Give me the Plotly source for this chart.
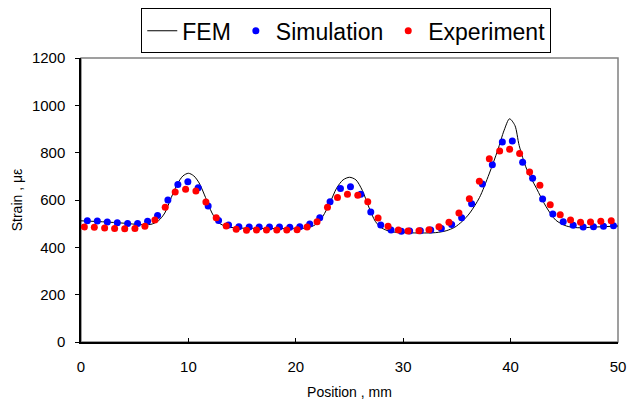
import plotly.graph_objects as go

# ---- data ----
fem_x = [0, 2, 4, 5.5, 6.5, 7.2, 7.8, 8.4, 9.0, 9.5, 10.0, 10.5, 11.0, 11.6, 12.2, 12.8, 13.5, 14.5,
         20, 21.0, 21.8, 22.5, 23.2, 23.8, 24.4, 25.0, 25.6, 26.2, 26.8, 27.4, 28.0, 28.8, 30, 33,
         34, 34.8, 35.5, 36.2, 37.1, 38.0, 38.8, 39.4, 39.9, 40.4, 40.8, 41.5, 42.4, 43.3, 44.2,
         45.2, 46.2, 48, 50]
fem_y = [512, 508, 502, 496, 497, 512, 545, 610, 670, 702, 713, 702, 672, 610, 545, 505, 488, 482,
         480, 482, 495, 530, 590, 650, 685, 696, 685, 640, 570, 510, 482, 467, 462, 462,
         470, 485, 510, 545, 610, 710, 810, 895, 943, 915, 830, 730, 650, 572, 515,
         490, 483, 486, 490]

sim_x = [0.59, 1.52, 2.45, 3.38, 4.34, 5.27, 6.20, 7.13, 8.09, 9.02, 9.95, 10.91, 11.84, 12.81,
         13.74, 14.70, 15.66, 16.59, 17.55, 18.48, 19.44, 20.37, 21.30, 22.23, 23.19, 24.16,
         25.09, 26.05, 26.98, 27.91, 28.87, 29.83, 30.60, 31.60, 32.56, 33.55, 34.51, 35.44,
         36.37, 37.37, 38.30, 39.23, 40.16, 41.12, 42.05, 42.98, 43.93, 44.90, 45.83, 46.76,
         47.72, 48.65, 49.58]
sim_y = [512, 511, 507, 504, 501, 501, 510, 534, 600, 666, 677, 652, 575, 513, 494, 487, 486,
         486, 486, 486, 485, 487, 499, 525, 593, 649, 656, 624, 549, 494, 473, 468, 469, 470,
         473, 480, 496, 525, 584, 668, 749, 845, 849, 759, 692, 604, 541, 508, 493, 486, 487,
         489, 491]

exp_x = [0.31, 1.24, 2.20, 3.13, 4.07, 5.02, 5.95, 6.88, 7.84, 8.77, 9.74, 10.70, 11.63, 12.59,
         13.52, 14.45, 15.41, 16.34, 17.27, 18.23, 19.16, 20.12, 21.05, 21.98, 22.95, 23.88,
         24.81, 25.77, 26.70, 27.66, 28.59, 29.55, 30.45, 31.47, 32.40, 33.33, 34.26, 35.19,
         36.16, 37.09, 38.02, 38.98, 39.91, 40.84, 41.77, 42.73, 43.69, 44.62, 45.58, 46.51,
         47.44, 48.40, 49.37]
exp_y = [486, 485, 482, 480, 479, 480, 489, 515, 569, 634, 645, 638, 592, 525, 490, 476, 472,
         473, 473, 473, 473, 474, 486, 508, 569, 611, 624, 620, 593, 524, 489, 473, 469, 470,
         474, 487, 506, 545, 605, 679, 774, 807, 814, 796, 718, 662, 580, 538, 515, 506, 507,
         510, 512]

x_ticks = [0, 10, 20, 30, 40, 50]
y_ticks = [0, 200, 400, 600, 800, 1000, 1200]

FONT = "Arial, Liberation Sans, sans-serif"

fig = go.Figure()
fig.add_trace(go.Scatter(x=fem_x, y=fem_y, mode="lines", name="FEM",
                         line=dict(color="black", width=1, shape="spline", smoothing=0.8)))
fig.add_trace(go.Scatter(x=sim_x, y=sim_y, mode="markers", name="Simulation",
                         marker=dict(color="#0000FF", size=7)))
fig.add_trace(go.Scatter(x=exp_x, y=exp_y, mode="markers", name="Experiment",
                         marker=dict(color="#FF0000", size=7)))

fig.add_shape(type="rect", xref="paper", yref="paper", x0=0, y0=0, x1=1, y1=1,
              line=dict(color="#808080", width=1.5), layer="below")

fig.update_layout(
    width=634, height=401,
    margin=dict(l=81, r=16, t=58, b=59, autoexpand=False),
    paper_bgcolor="white", plot_bgcolor="white",
    font=dict(family=FONT, size=15, color="black"),
    showlegend=True,
    legend=dict(orientation="h", x=0.494, xanchor="center", y=1.175, yanchor="top",
                bgcolor="white", bordercolor="black", borderwidth=1,
                font=dict(size=23, family=FONT, color="black"),
                itemwidth=30, tracegroupgap=0),
    xaxis=dict(range=[0, 50], tickvals=x_ticks, ticks="inside", ticklen=4,
               showline=True, linecolor="black", linewidth=1.5, tickcolor="black",
               showgrid=False, zeroline=False, ticklabelstandoff=10,
               title=dict(text="Position , mm", font=dict(size=14), standoff=13)),
    yaxis=dict(range=[0, 1200], tickvals=y_ticks, ticks="outside", ticklen=4,
               showline=True, linecolor="black", linewidth=1.5, tickcolor="black",
               showgrid=False, zeroline=False, ticklabelstandoff=7,
               title=dict(text="Strain , με", font=dict(size=14), standoff=6)),
)

fig.write_html("out.html", config={"displayModeBar": False},
               post_script="document.body.style.margin='0';")
